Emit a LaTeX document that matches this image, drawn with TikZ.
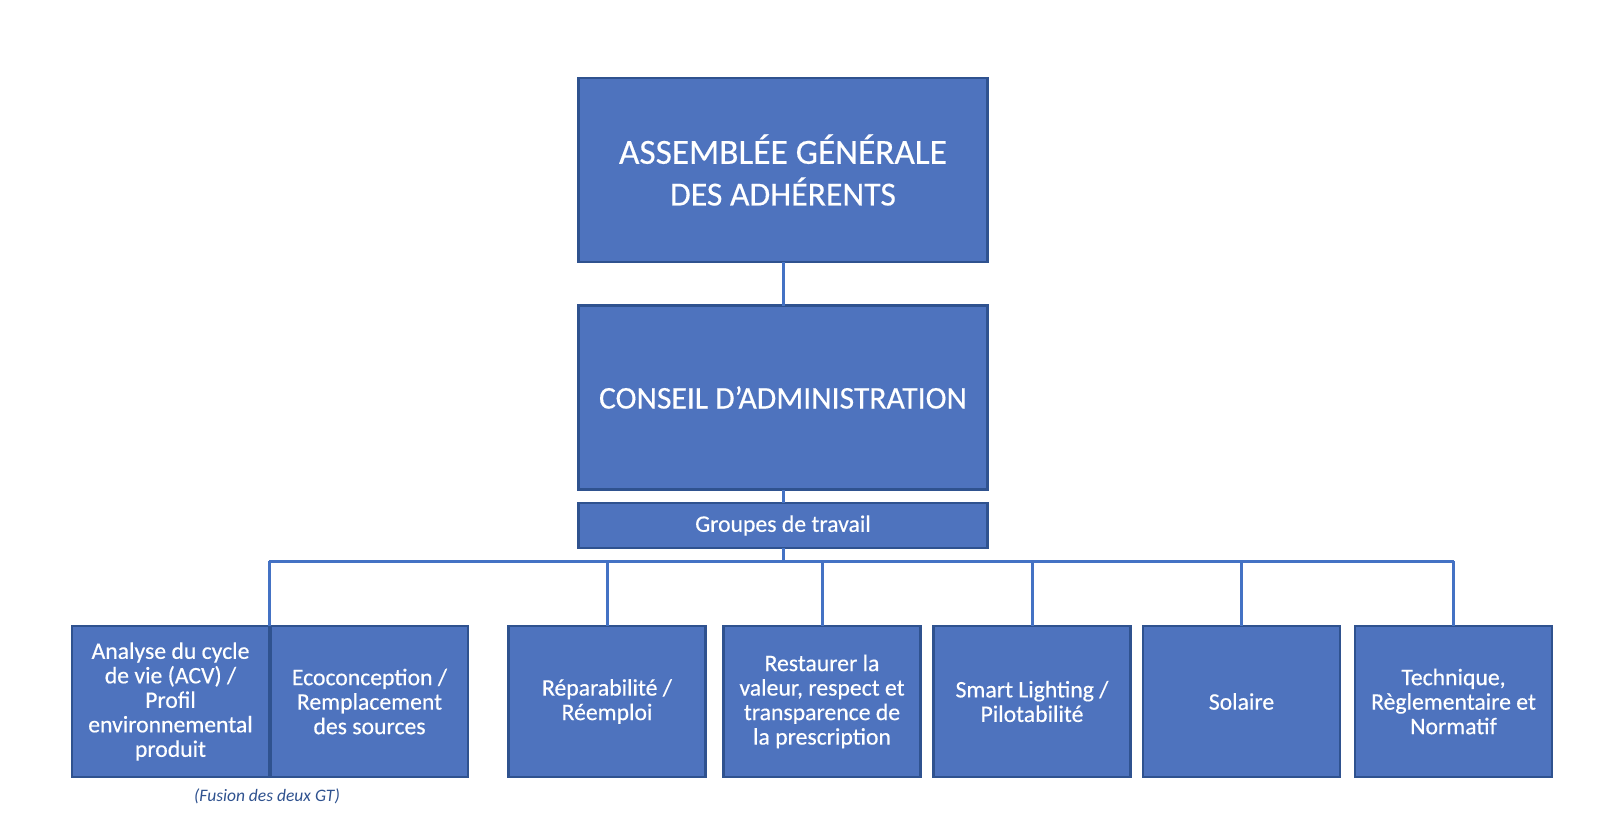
\documentclass[tikz,border=0pt]{standalone}
\usepackage{fontspec}
\setmainfont{Carlito}[FakeBold=0.4]
\newfontfamily\notefont{Carlito}
\usetikzlibrary{positioning}
\definecolor{boxblue}{HTML}{4E73BE}
\definecolor{boxedge}{HTML}{2F528F}
\definecolor{linkblue}{HTML}{4472C4}

\begin{document}
\begin{tikzpicture}
[x=1pt,y=-1pt,
 every node/.style={draw=boxedge,line width=2.4pt,fill=boxblue,text=white,align=center,inner sep=0pt,outer sep=0pt},
 big/.style={minimum width=409pt,minimum height=184pt,font=\fontsize{33.7}{41.7}\selectfont},
 bar/.style={minimum width=409pt,minimum height=45pt,font=\fontsize{23.7}{24.5}\selectfont},
 wg/.style={minimum width=197pt,minimum height=151pt,font=\fontsize{23.7}{24.5}\selectfont},
 note/.style={draw=none,fill=none,text=boxedge,font=\notefont\fontsize{17.5}{18}\selectfont\itshape},
 link/.style={draw=linkblue,line width=3pt}]
\useasboundingbox (0,0) rectangle (1604,838);

\node[big] (ag) at (783,170) {\fontsize{35.3}{41.7}\selectfont ASSEMBLÉE GÉNÉRALE\\DES ADHÉRENTS};
\node[big] (ca)  [on grid,below=227.5pt of ag] {\fontsize{31.6}{41.7}\selectfont CONSEIL D’ADMINISTRATION};
\node[bar] (gt)  [on grid,below=128pt of ca]   {Groupes de travail};
\coordinate (bus) at (783,561);

\node[wg] (acv)   at (170.5,701.5)                {Analyse du cycle\\de vie (ACV) /\\Profil\\environnemental\\produit};
\node[wg] (eco)   [on grid,right=199pt of acv]    {Ecoconception /\\Remplacement\\des sources};
\node[wg] (rep)   [on grid,right=237.5pt of eco]  {Réparabilité /\\Réemploi};
\node[wg] (rest)  [on grid,right=215pt of rep]    {Restaurer la\\valeur, respect et\\transparence de\\la prescription};
\node[wg] (smart) [on grid,right=210pt of rest]   {Smart Lighting /\\Pilotabilité};
\node[wg] (sol)   [on grid,right=209.5pt of smart] {Solaire};
\node[wg] (tech)  [on grid,right=212pt of sol]    {Technique,\\Règlementaire et\\Normatif};
\node[note] (fusion) at (267,796) {(Fusion des deux GT)};

\path[link] (ag) edge (ca)
            (ca) edge (gt)
            (gt) edge (bus);
\draw[link] (acv.north east |- bus) -- (tech.north |- bus);
\draw[link] (acv.north east |- bus) -- (acv.north east);
\foreach \g in {rep,rest,smart,sol,tech}
  \draw[link] (\g.north |- bus) -- (\g.north);
\end{tikzpicture}
\end{document}
